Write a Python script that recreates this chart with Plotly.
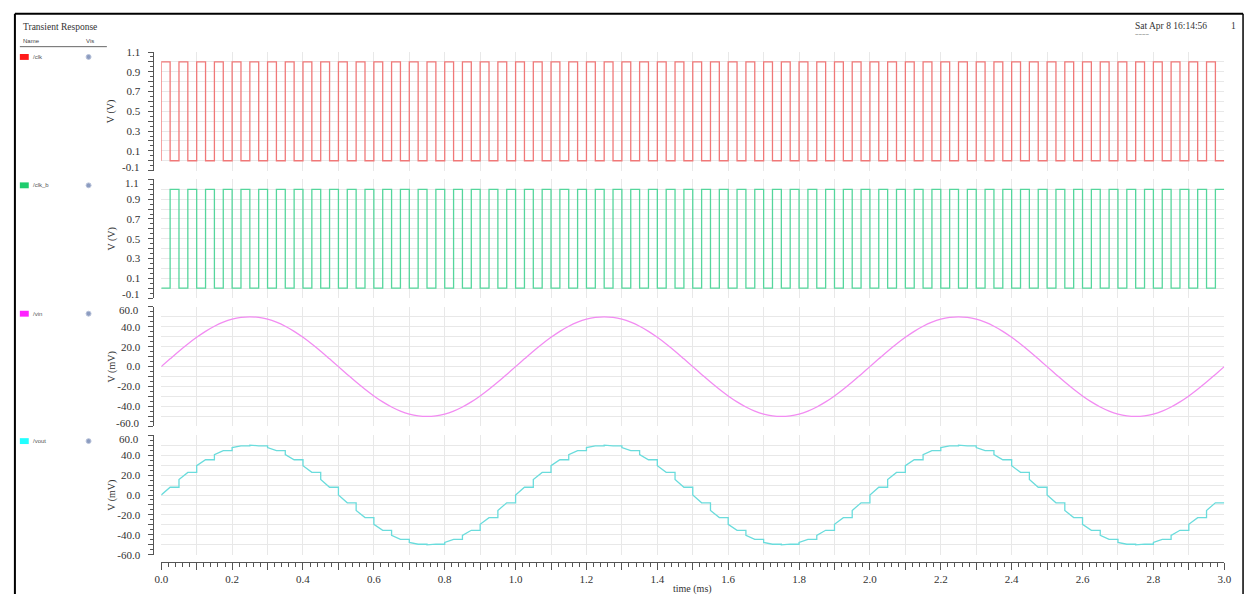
import plotly.graph_objects as go

W, H = 1254, 599

# ---------------- data (time in ms) ----------------
t_ms = [
    0.000, 0.025, 0.050, 0.075, 0.100, 0.125, 0.150, 0.175, 0.200, 0.225,
    0.250, 0.275, 0.300, 0.325, 0.350, 0.375, 0.400, 0.425, 0.450, 0.475,
    0.500, 0.525, 0.550, 0.575, 0.600, 0.625, 0.650, 0.675, 0.700, 0.725,
    0.750, 0.775, 0.800, 0.825, 0.850, 0.875, 0.900, 0.925, 0.950, 0.975,
    1.000, 1.025, 1.050, 1.075, 1.100, 1.125, 1.150, 1.175, 1.200, 1.225,
    1.250, 1.275, 1.300, 1.325, 1.350, 1.375, 1.400, 1.425, 1.450, 1.475,
    1.500, 1.525, 1.550, 1.575, 1.600, 1.625, 1.650, 1.675, 1.700, 1.725,
    1.750, 1.775, 1.800, 1.825, 1.850, 1.875, 1.900, 1.925, 1.950, 1.975,
    2.000, 2.025, 2.050, 2.075, 2.100, 2.125, 2.150, 2.175, 2.200, 2.225,
    2.250, 2.275, 2.300, 2.325, 2.350, 2.375, 2.400, 2.425, 2.450, 2.475,
    2.500, 2.525, 2.550, 2.575, 2.600, 2.625, 2.650, 2.675, 2.700, 2.725,
    2.750, 2.775, 2.800, 2.825, 2.850, 2.875, 2.900, 2.925, 2.950, 2.975,
    3.000,
]

# clock levels (V) held from each sample time to the next
clk_V = [
    1, 0, 1, 0, 1, 0, 1, 0, 1, 0, 1, 0, 1, 0, 1, 0, 1, 0, 1, 0,
    1, 0, 1, 0, 1, 0, 1, 0, 1, 0, 1, 0, 1, 0, 1, 0, 1, 0, 1, 0,
    1, 0, 1, 0, 1, 0, 1, 0, 1, 0, 1, 0, 1, 0, 1, 0, 1, 0, 1, 0,
    1, 0, 1, 0, 1, 0, 1, 0, 1, 0, 1, 0, 1, 0, 1, 0, 1, 0, 1, 0,
    1, 0, 1, 0, 1, 0, 1, 0, 1, 0, 1, 0, 1, 0, 1, 0, 1, 0, 1, 0,
    1, 0, 1, 0, 1, 0, 1, 0, 1, 0, 1, 0, 1, 0, 1, 0, 1, 0, 1, 0,
    0,
]
clk_b_V = [
    0, 1, 0, 1, 0, 1, 0, 1, 0, 1, 0, 1, 0, 1, 0, 1, 0, 1, 0, 1,
    0, 1, 0, 1, 0, 1, 0, 1, 0, 1, 0, 1, 0, 1, 0, 1, 0, 1, 0, 1,
    0, 1, 0, 1, 0, 1, 0, 1, 0, 1, 0, 1, 0, 1, 0, 1, 0, 1, 0, 1,
    0, 1, 0, 1, 0, 1, 0, 1, 0, 1, 0, 1, 0, 1, 0, 1, 0, 1, 0, 1,
    0, 1, 0, 1, 0, 1, 0, 1, 0, 1, 0, 1, 0, 1, 0, 1, 0, 1, 0, 1,
    0, 1, 0, 1, 0, 1, 0, 1, 0, 1, 0, 1, 0, 1, 0, 1, 0, 1, 0, 1,
    1,
]

# input sine (mV) at the sample times
vin_mV = [
    0.0, 7.8, 15.5, 22.7, 29.4, 35.4, 40.5, 44.6, 47.6, 49.4,
    50.0, 49.4, 47.6, 44.6, 40.5, 35.4, 29.4, 22.7, 15.5, 7.8,
    0.0, -7.8, -15.5, -22.7, -29.4, -35.4, -40.5, -44.6, -47.6, -49.4,
    -50.0, -49.4, -47.6, -44.6, -40.5, -35.4, -29.4, -22.7, -15.5, -7.8,
    0.0, 7.8, 15.5, 22.7, 29.4, 35.4, 40.5, 44.6, 47.6, 49.4,
    50.0, 49.4, 47.6, 44.6, 40.5, 35.4, 29.4, 22.7, 15.5, 7.8,
    0.0, -7.8, -15.5, -22.7, -29.4, -35.4, -40.5, -44.6, -47.6, -49.4,
    -50.0, -49.4, -47.6, -44.6, -40.5, -35.4, -29.4, -22.7, -15.5, -7.8,
    0.0, 7.8, 15.5, 22.7, 29.4, 35.4, 40.5, 44.6, 47.6, 49.4,
    50.0, 49.4, 47.6, 44.6, 40.5, 35.4, 29.4, 22.7, 15.5, 7.8,
    0.0, -7.8, -15.5, -22.7, -29.4, -35.4, -40.5, -44.6, -47.6, -49.4,
    -50.0, -49.4, -47.6, -44.6, -40.5, -35.4, -29.4, -22.7, -15.5, -7.8,
    0.0,
]

clk_ticks = [-0.1, 0.0, 0.1, 0.2, 0.3, 0.4, 0.5, 0.6, 0.7, 0.8, 0.9, 1.0, 1.1]
clk_labels = ["-0.1", "", "0.1", "", "0.3", "", "0.5", "", "0.7", "", "0.9", "", "1.1"]
mv_ticks = [-60, -50, -40, -30, -20, -10, 0, 10, 20, 30, 40, 50, 60]
mv_labels = ["-60.0", "", "-40.0", "", "-20.0", "", "0.0", "", "20.0", "", "40.0", "", "60.0"]
time_ticks = [0.0, 0.1, 0.2, 0.3, 0.4, 0.5, 0.6, 0.7, 0.8, 0.9, 1.0, 1.1, 1.2, 1.3, 1.4, 1.5,
              1.6, 1.7, 1.8, 1.9, 2.0, 2.1, 2.2, 2.3, 2.4, 2.5, 2.6, 2.7, 2.8, 2.9, 3.0]
time_labels = ["0.0", "", "0.2", "", "0.4", "", "0.6", "", "0.8", "", "1.0", "", "1.2", "", "1.4", "",
               "1.6", "", "1.8", "", "2.0", "", "2.2", "", "2.4", "", "2.6", "", "2.8", "", "3.0"]

signal_names = ["/clk", "/clk_b", "/vin", "/vout"]
trace_colors = ["#f07878", "#55d69c", "#f28cf2", "#6adcdc"]
legend_colors = ["#ff1a1a", "#1fcc6e", "#ff22ff", "#22ffff"]
y_titles = ["V (V)", "V (V)", "V (mV)", "V (mV)"]

# vout: track vin while clk is high, hold while clk is low
vout_t, vout_v = [], []
for k in range(len(t_ms) - 1):
    vout_t.append(t_ms[k]); vout_v.append(vin_mV[k])
    vout_t.append(t_ms[k + 1])
    vout_v.append(vin_mV[k + 1] if clk_V[k] == 1 else vin_mV[k])

# ---------------- layout helpers ----------------
def px(x):
    return x / W

def py(y):
    return 1 - y / H

panels = [(47, 168), (177, 298), (307, 429), (438, 560)]
# which end labels sit between two stacked panels (drawn apart so they do not collide)
hide_top = [False, True, True, True]
hide_bottom = [True, True, True, False]
SERIF = "Liberation Serif"
AX = "#555555"
GRID = "#e8e8e8"
TXT = "#333333"
LABEL_RIGHT = 135

fig = go.Figure()

fig.add_trace(go.Scatter(x=[0.0] + t_ms, y=[0] + clk_V, mode="lines", line_shape="hv",
                         line=dict(color=trace_colors[0], width=1.3), xaxis="x", yaxis="y"))
fig.add_trace(go.Scatter(x=t_ms, y=clk_b_V, mode="lines", line_shape="hv",
                         line=dict(color=trace_colors[1], width=1.3), xaxis="x", yaxis="y2"))
fig.add_trace(go.Scatter(x=t_ms, y=vin_mV, mode="lines", line_shape="spline",
                         line=dict(color=trace_colors[2], width=1.3), xaxis="x", yaxis="y3"))
fig.add_trace(go.Scatter(x=vout_t, y=vout_v, mode="lines",
                         line=dict(color=trace_colors[3], width=1.3), xaxis="x", yaxis="y4"))

layout = dict(
    width=W, height=H,
    margin=dict(l=0, r=0, t=0, b=0),
    paper_bgcolor="white", plot_bgcolor="white",
    showlegend=False,
    font=dict(family=SERIF, size=11, color=TXT),
    xaxis=dict(
        domain=[px(156), px(1231)], range=[0, 3.0], anchor="free", position=py(567),
        tickmode="array", tickvals=time_ticks, ticktext=time_labels,
        ticks="outside", ticklen=7, tickcolor=AX, tickwidth=1,
        showline=True, linecolor=AX, linewidth=1,
        showgrid=True, gridcolor=GRID, gridwidth=1, zeroline=False,
        minor=dict(tickmode="linear", tick0=0, dtick=0.02, ticks="outside",
                   ticklen=4, tickcolor=AX, showgrid=False),
        tickfont=dict(family=SERIF, size=11, color=TXT),
    ),
)

annotations = []
for i, (top, bot) in enumerate(panels):
    name = "yaxis" if i == 0 else f"yaxis{i + 1}"
    is_clk = i < 2
    ticks = clk_ticks if is_clk else mv_ticks
    labels = list(clk_labels if is_clk else mv_labels)
    if hide_bottom[i]:
        annotations.append(dict(text=labels[0], x=px(LABEL_RIGHT), y=py(bot + 3.5), xref="paper", yref="paper",
                                xanchor="right", yanchor="bottom", showarrow=False, borderpad=0,
                                font=dict(family=SERIF, size=11, color=TXT)))
        labels[0] = ""
    if hide_top[i]:
        annotations.append(dict(text=labels[-1], x=px(LABEL_RIGHT), y=py(top - 3.5), xref="paper", yref="paper",
                                xanchor="right", yanchor="top", showarrow=False, borderpad=0,
                                font=dict(family=SERIF, size=11, color=TXT)))
        labels[-1] = ""
    layout[name] = dict(
        domain=[py(bot), py(top)],
        range=[-0.1, 1.1] if is_clk else [-60, 60],
        anchor="free", position=px(148),
        tickmode="array", tickvals=ticks, ticktext=labels,
        ticks="outside", ticklen=5, tickcolor=AX, tickwidth=1,
        ticklabelstandoff=6,
        showline=True, linecolor=AX, linewidth=1,
        showgrid=True, gridcolor=GRID, gridwidth=1, zeroline=False,
        minor=dict(tickmode="linear", tick0=-0.1 if is_clk else -60,
                   dtick=0.05 if is_clk else 5, ticks="outside",
                   ticklen=3, tickcolor=AX, showgrid=False),
        tickfont=dict(family=SERIF, size=11, color=TXT),
    )
fig.update_layout(**layout)

shapes = []

# window frame
shapes.append(dict(type="line", xref="paper", yref="paper", x0=px(8), x1=px(1250), y0=py(8), y1=py(8),
                   line=dict(color="black", width=2)))
shapes.append(dict(type="line", xref="paper", yref="paper", x0=px(8), x1=px(8), y0=py(8), y1=py(600),
                   line=dict(color="black", width=2)))
shapes.append(dict(type="line", xref="paper", yref="paper", x0=px(1250), x1=px(1250), y0=py(8), y1=py(600),
                   line=dict(color="black", width=1.5)))

# header texts
annotations.append(dict(text="Transient Response", x=px(14), y=py(21), xref="paper", yref="paper",
                        xanchor="left", yanchor="middle", showarrow=False,
                        font=dict(family=SERIF, size=9.5, color=TXT)))
annotations.append(dict(text="Name", x=px(14), y=py(36), xref="paper", yref="paper",
                        xanchor="left", yanchor="middle", showarrow=False,
                        font=dict(family="Liberation Sans", size=6, color="#444444")))
annotations.append(dict(text="Vis", x=px(78), y=py(36), xref="paper", yref="paper",
                        xanchor="left", yanchor="middle", showarrow=False,
                        font=dict(family="Liberation Sans", size=6, color="#444444")))
shapes.append(dict(type="line", xref="paper", yref="paper", x0=px(13), x1=px(101), y0=py(41.5), y1=py(41.5),
                   line=dict(color="#666666", width=1)))
annotations.append(dict(text="Sat Apr 8 16:14:56", x=px(1139), y=py(20), xref="paper", yref="paper",
                        xanchor="left", yanchor="middle", showarrow=False,
                        font=dict(family=SERIF, size=9.5, color=TXT)))
annotations.append(dict(text="~~~~", x=px(1139), y=py(29), xref="paper", yref="paper",
                        xanchor="left", yanchor="middle", showarrow=False,
                        font=dict(family="Liberation Sans", size=6, color="#777777")))
annotations.append(dict(text="1", x=px(1240), y=py(20), xref="paper", yref="paper",
                        xanchor="center", yanchor="middle", showarrow=False,
                        font=dict(family=SERIF, size=9.5, color=TXT)))

legend_y = [52, 183, 314, 444]
for i, (top, bot) in enumerate(panels):
    ly = legend_y[i]
    shapes.append(dict(type="rect", xref="paper", yref="paper", x0=px(13), x1=px(22),
                       y0=py(ly + 3), y1=py(ly - 3), fillcolor=legend_colors[i], line=dict(width=0)))
    annotations.append(dict(text=signal_names[i], x=px(24), y=py(ly), xref="paper", yref="paper",
                            xanchor="left", yanchor="middle", showarrow=False,
                            font=dict(family="Liberation Sans", size=6, color="#555555")))
    shapes.append(dict(type="circle", xref="paper", yref="paper", x0=px(80), x1=px(85),
                       y0=py(ly + 2.5), y1=py(ly - 2.5), fillcolor="#8c9cc0", line=dict(color="#b8c2da", width=1)))
    annotations.append(dict(text=y_titles[i], x=px(106), y=py((top + bot) / 2), xref="paper", yref="paper",
                            xanchor="center", yanchor="middle", showarrow=False, textangle=-90,
                            font=dict(family=SERIF, size=10, color=TXT)))

annotations.append(dict(text="time (ms)", x=px(693), y=py(595), xref="paper", yref="paper",
                        xanchor="center", yanchor="middle", showarrow=False,
                        font=dict(family=SERIF, size=10, color=TXT)))

fig.update_layout(shapes=shapes, annotations=annotations)
fig.write_html("out.html")
